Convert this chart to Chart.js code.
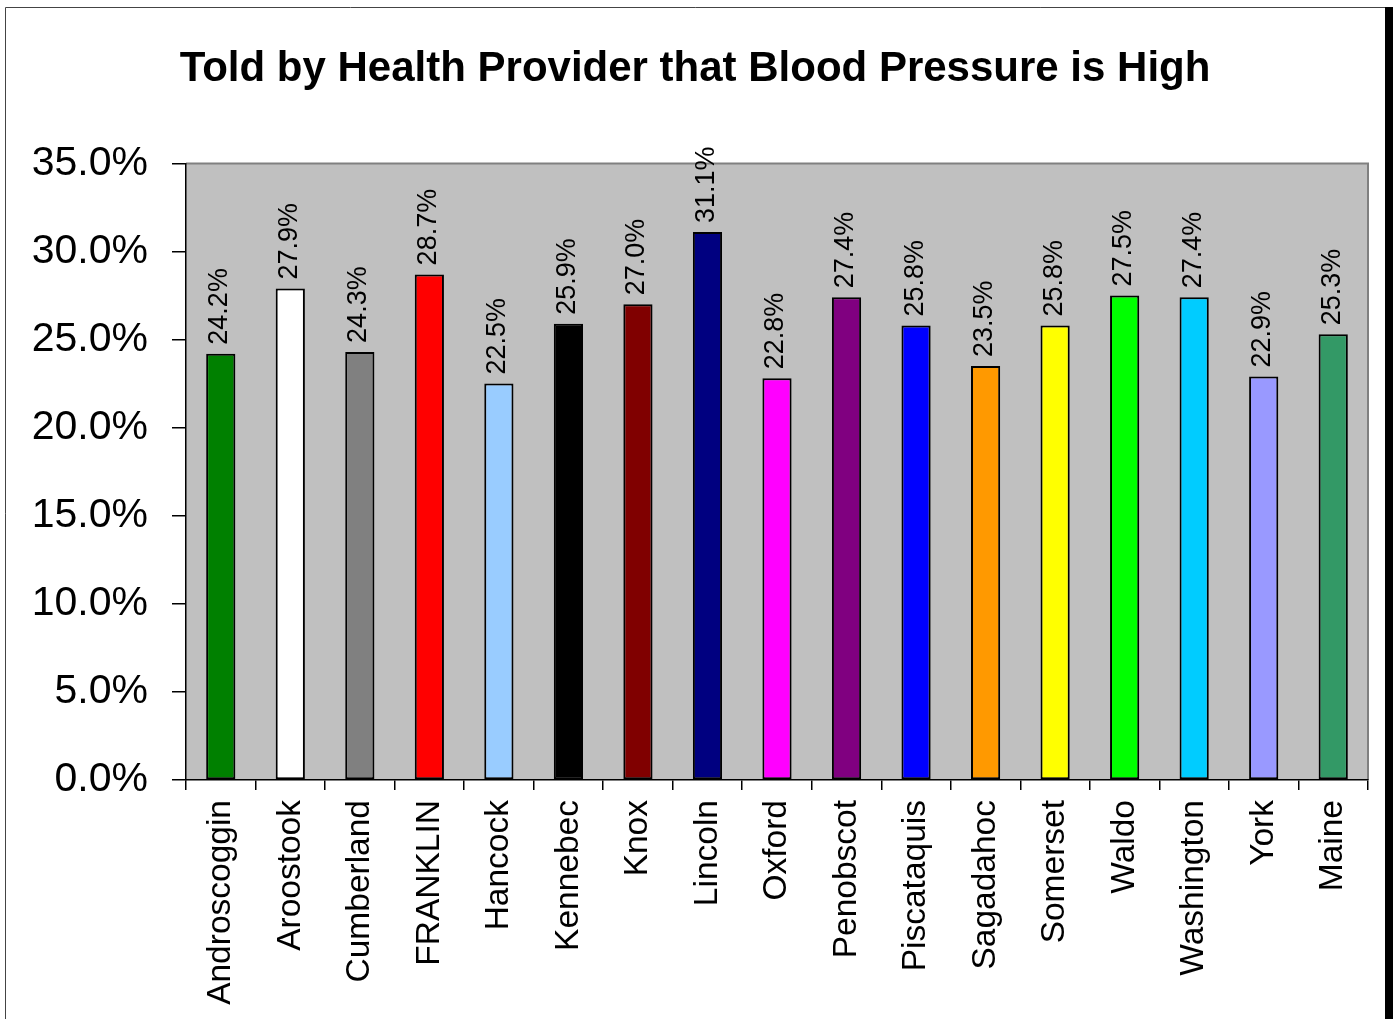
<!DOCTYPE html>
<html>
<head>
<meta charset="utf-8">
<script src="https://cdn.jsdelivr.net/npm/chart.js@4.4.1/dist/chart.umd.min.js"></script>
<style>
  html, body { margin: 0; padding: 0; background: #fff; }
  #wrap { width: 1393px; height: 1019px; position: relative; }
</style>
</head>
<body>
<div id="wrap"><canvas id="bpChart"></canvas></div>
<script>
// Datos del gráfico
const counties = ['Androscoggin', 'Aroostook', 'Cumberland', 'FRANKLIN', 'Hancock', 'Kennebec', 'Knox',
  'Lincoln', 'Oxford', 'Penobscot', 'Piscataquis', 'Sagadahoc', 'Somerset', 'Waldo', 'Washington', 'York', 'Maine'];
const highBpPct = [24.2, 27.9, 24.3, 28.7, 22.5, 25.9, 27.0, 31.1, 22.8, 27.4, 25.8, 23.5, 25.8, 27.5, 27.4, 22.9, 25.3];
const barColors = ['#008000', '#FFFFFF', '#808080', '#FF0000', '#99CCFF', '#000000', '#800000', '#000080',
  '#FF00FF', '#800080', '#0000FF', '#FF9900', '#FFFF00', '#00FF00', '#00CCFF', '#9999FF', '#339966'];
const yTickMin = 0, yTickMax = 35, yTickStep = 5;

const FONT = "'Liberation Sans', Arial, sans-serif";

// Fondo, marco exterior y área gris del gráfico
const framePlugin = {
  id: 'frame',
  beforeDraw(chart) {
    const { ctx, chartArea: a, width, height } = chart;
    ctx.save();
    ctx.fillStyle = '#fff';
    ctx.fillRect(0, 0, width, height);
    ctx.strokeStyle = '#444';
    ctx.lineWidth = 1;
    ctx.beginPath();
    ctx.moveTo(5.5, height);
    ctx.lineTo(5.5, 7.5);
    ctx.lineTo(1385, 7.5);
    ctx.stroke();
    ctx.fillStyle = '#000';
    ctx.fillRect(1385, 7, width - 1385, height - 7);
    ctx.fillStyle = '#C0C0C0';
    ctx.fillRect(a.left, a.top, a.right - a.left, a.bottom - a.top);
    ctx.strokeStyle = '#808080';
    ctx.lineWidth = 2;
    ctx.beginPath();
    ctx.moveTo(a.left, a.top);
    ctx.lineTo(a.right, a.top);
    ctx.lineTo(a.right, a.bottom);
    ctx.stroke();
    ctx.restore();
  }
};

// Etiquetas de valor giradas encima de cada barra
const valueLabels = {
  id: 'valueLabels',
  afterDraw(chart) {
    const { ctx } = chart;
    const meta = chart.getDatasetMeta(0);
    ctx.save();
    ctx.fillStyle = '#000';
    ctx.font = '27px ' + FONT;
    ctx.textAlign = 'left';
    ctx.textBaseline = 'middle';
    meta.data.forEach((bar, i) => {
      ctx.save();
      ctx.translate(bar.x - 1, bar.y - 9);
      ctx.rotate(-Math.PI / 2);
      ctx.fillText(highBpPct[i].toFixed(1) + '%', 0, 0);
      ctx.restore();
    });
    ctx.restore();
  }
};

new Chart(document.getElementById('bpChart'), {
  type: 'bar',
  data: {
    labels: counties,
    datasets: [{
      data: highBpPct,
      backgroundColor: barColors,
      borderColor: '#000',
      borderWidth: 2,
      borderSkipped: false,
      categoryPercentage: 1,
      barPercentage: 0.42
    }]
  },
  options: {
    responsive: true,
    maintainAspectRatio: false,
    animation: false,
    layout: { padding: { top: 0, right: 25, bottom: 0, left: 22 } },
    plugins: {
      legend: { display: false },
      tooltip: { enabled: false },
      title: {
        display: true,
        text: 'Told by Health Provider that Blood Pressure is High',
        color: '#000',
        font: { family: FONT, size: 42, weight: 'bold', lineHeight: 1.2 },
        padding: { top: 44, bottom: 69 }
      }
    },
    scales: {
      x: {
        grid: { display: true, drawOnChartArea: false, drawTicks: true, tickLength: 10, color: '#000', lineWidth: 1.5, offset: true },
        border: { display: true, color: '#000', width: 1.5 },
        ticks: {
          color: '#000',
          font: { family: FONT, size: 33.5 },
          minRotation: 90,
          maxRotation: 90,
          autoSkip: false,
          padding: 10
        },
        afterFit(scale) { scale.height = 239; }
      },
      y: {
        min: yTickMin,
        max: yTickMax,
        grid: { display: true, drawOnChartArea: false, drawTicks: true, tickLength: 14, color: '#000', lineWidth: 1.5 },
        border: { display: true, color: '#000', width: 1.5 },
        ticks: {
          stepSize: yTickStep,
          color: '#000',
          font: { family: FONT, size: 41 },
          padding: 24,
          callback: v => v.toFixed(1) + '%'
        },
        afterFit(scale) { scale.width = 164; }
      }
    }
  },
  plugins: [framePlugin, valueLabels]
});
</script>
</body>
</html>
